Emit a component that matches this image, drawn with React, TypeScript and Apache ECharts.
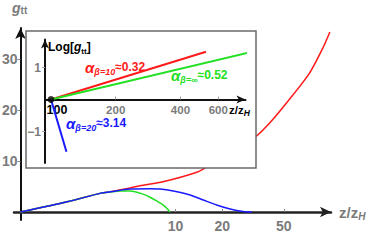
import React, { useEffect, useRef } from 'react';
import * as echarts from 'echarts';

// ---- Main panel: g_tt versus z/z_H (log-scaled z axis) ----
const mainXTicks = [10, 20, 50];
const mainYTicks = [10, 20, 30];

const redZ = [1, 2, 3.3, 3.8, 5, 5.9, 8.3, 13.7, 16.7, 19.4, 25, 33, 42, 54, 73, 90, 99];
const redG = [0, 2.0, 3.7, 3.98, 4.65, 5.16, 5.94, 7.8, 9.2, 10.6, 12.6, 14.8, 18, 22, 27.2, 32.4, 35.3];

const blueZ = [1, 2, 3.3, 3.8, 5.09, 6.85, 7.94, 9.68, 12.4, 15.1, 18.4, 22.5, 27.3, 31];
const blueG = [0, 2.0, 3.7, 3.95, 4.5, 4.55, 4.5, 4.1, 3.33, 2.35, 1.37, 0.59, 0.1, 0];

const greenZ = [1, 2, 3.3, 3.8, 4.4, 5.09, 6.17, 6.85, 7.6, 8.3, 8.81, 9.22];
const greenG = [0, 2.0, 3.7, 3.93, 4.12, 4.1, 3.5, 2.9, 2.15, 1.4, 0.7, 0];

// ---- Inset: Log[g_tt] versus z/z_H (log-scaled z axis) ----
const insetXTicks = [100, 200, 400, 600];
const insetYTicks = [-1, 1];
const insetRedZ = [100, 526];
const insetRedLog = [0, 1.49];
const insetGreenZ = [100, 857];
const insetGreenLog = [0, 1.49];
const insetBlueZ = [100, 118];
const insetBlueLog = [0, -1.63];
const insetOrigin = [[100, 0]];

const FONT = '"Liberation Sans", Arial, sans-serif';
const GRAY = '#7b7b7b';
const RED = '#ff1a1a';
const GREEN = '#22e022';
const BLUE = '#1a1aff';

const lg = (v: number) => Math.log10(v);
const pts = (zs: number[], gs: number[]) => zs.map((z, i) => [lg(z), gs[i]]);

const alphaRich = (color: string) => ({
  a: { fontFamily: FONT, fontSize: 15, fontStyle: 'italic', fontWeight: 'bold', fill: color, lineHeight: 18, verticalAlign: 'middle' },
  s: { fontFamily: FONT, fontSize: 9, fontStyle: 'italic', fontWeight: 'bold', fill: color, lineHeight: 10, verticalAlign: 'bottom' },
  b: { fontFamily: FONT, fontSize: 12, fontWeight: 'bold', fill: color, lineHeight: 18, verticalAlign: 'middle' },
});

export default function App() {
  const ref = useRef<HTMLDivElement>(null);
  useEffect(() => {
    if (!ref.current) return;
    const chart = echarts.init(ref.current, undefined, { renderer: 'svg' });
    const option: any = {
      animation: false,
      backgroundColor: '#ffffff',
      grid: [
        { left: 14, right: 40, top: 28, bottom: 22, containLabel: false, outerBoundsMode: 'none' },
        { left: 45, right: 125.5, top: 39.5, bottom: 79, containLabel: false, outerBoundsMode: 'none' },
      ],
      xAxis: [
        {
          gridIndex: 0,
          type: 'value',
          position: 'bottom',
          offset: -8,
          min: -0.0419,
          max: 2.003,
          splitLine: { show: false },
          axisLine: { onZero: false, lineStyle: { color: '#222', width: 2.5 }, symbol: ['none', 'arrow'], symbolSize: [8, 11] },
          axisTick: { inside: true, length: 3, lineStyle: { color: '#888', width: 1 }, customValues: mainXTicks.map(lg) },
          axisLabel: {
            customValues: mainXTicks.map(lg),
            formatter: (v: number) => String(Math.round(Math.pow(10, v))),
            color: GRAY, fontFamily: FONT, fontWeight: 'bold', fontSize: 14, margin: 7,
          },
          name: '{a|z/z}{h|H}',
          nameLocation: 'end',
          nameGap: 8,
          nameTextStyle: {
            rich: {
              a: { fontFamily: FONT, fontSize: 15, fontWeight: 'bold', color: GRAY, lineHeight: 18, verticalAlign: 'middle' },
              h: { fontFamily: FONT, fontSize: 10, fontWeight: 'bold', fontStyle: 'italic', color: GRAY, lineHeight: 10, verticalAlign: 'bottom' },
            },
          },
        },
        {
          gridIndex: 1,
          type: 'value',
          position: 'bottom',
          offset: -63.5,
          min: 1.9721,
          max: 2.9047,
          z: 10,
          splitLine: { show: false },
          axisLine: { onZero: false, lineStyle: { color: '#111', width: 2 }, symbol: ['none', 'arrow'], symbolSize: [6, 9] },
          axisTick: { inside: true, length: 3, lineStyle: { color: '#999', width: 1 }, customValues: insetXTicks.slice(1).map(lg) },
          axisLabel: {
            customValues: insetXTicks.map(lg),
            formatter: (v: number) => {
              const n = Math.round(Math.pow(10, v));
              return n === 100 ? '{o|100}' : String(n);
            },
            color: GRAY, fontFamily: FONT, fontWeight: 'bold', fontSize: 11.5, margin: 4,
            rich: { o: { color: '#000', fontFamily: FONT, fontWeight: 'bold', fontSize: 12.5, padding: [0, 0, 0, 12] } },
          },
        },
      ],
      yAxis: [
        {
          gridIndex: 0,
          type: 'value',
          position: 'left',
          offset: -6.5,
          min: -1.57,
          max: 36.08,
          splitLine: { show: false },
          axisLine: { onZero: false, lineStyle: { color: '#111', width: 2 }, symbol: ['none', 'arrow'], symbolSize: [8, 11] },
          axisTick: { length: 3, lineStyle: { color: '#888', width: 1 }, customValues: mainYTicks },
          axisLabel: {
            customValues: mainYTicks,
            color: GRAY, fontFamily: FONT, fontWeight: 'bold', fontSize: 14, margin: 3,
          },
        },
        {
          gridIndex: 1,
          type: 'value',
          position: 'left',
          min: -1.984,
          max: 1.875,
          z: 10,
          splitLine: { show: false },
          axisLine: { onZero: false, lineStyle: { color: '#111', width: 2 }, symbol: ['none', 'arrow'], symbolSize: [6, 9] },
          axisTick: { length: 3, lineStyle: { color: '#999', width: 1 }, customValues: insetYTicks },
          axisLabel: {
            customValues: insetYTicks,
            formatter: (v: number) => (v < 0 ? '\u2212' + Math.abs(v) : String(v)),
            color: GRAY, fontFamily: FONT, fontWeight: 'bold', fontSize: 12, margin: 4,
          },
        },
      ],
      series: [
        { type: 'line', xAxisIndex: 0, yAxisIndex: 0, data: pts(redZ, redG), showSymbol: false, smooth: 0.25, lineStyle: { color: RED, width: 1.5 }, itemStyle: { color: RED }, z: 2 },
        { type: 'line', xAxisIndex: 0, yAxisIndex: 0, data: pts(greenZ, greenG), showSymbol: false, smooth: 0.25, lineStyle: { color: GREEN, width: 1.5 }, itemStyle: { color: GREEN }, z: 2 },
        { type: 'line', xAxisIndex: 0, yAxisIndex: 0, data: pts(blueZ, blueG), showSymbol: false, smooth: 0.25, lineStyle: { color: BLUE, width: 1.5 }, itemStyle: { color: BLUE }, z: 3 },
        { type: 'line', xAxisIndex: 1, yAxisIndex: 1, data: pts(insetRedZ, insetRedLog), showSymbol: false, clip: false, lineStyle: { color: RED, width: 2 }, itemStyle: { color: RED }, z: 10 },
        { type: 'line', xAxisIndex: 1, yAxisIndex: 1, data: pts(insetGreenZ, insetGreenLog), showSymbol: false, clip: false, lineStyle: { color: GREEN, width: 2 }, itemStyle: { color: GREEN }, z: 10 },
        { type: 'line', xAxisIndex: 1, yAxisIndex: 1, data: pts(insetBlueZ, insetBlueLog), showSymbol: false, clip: false, lineStyle: { color: BLUE, width: 2 }, itemStyle: { color: BLUE }, z: 10 },
        { type: 'scatter', xAxisIndex: 1, yAxisIndex: 1, data: insetOrigin.map((p) => [lg(p[0]), p[1]]), symbolSize: 7, itemStyle: { color: '#000' }, z: 12 },
      ],
      graphic: [
        { type: 'rect', z: 5, shape: { x: 26, y: 31, width: 230, height: 137 }, style: { fill: '#fff', stroke: '#6a6a6a', lineWidth: 1.5 } },
        {
          type: 'text', z: 20, x: 12, y: 1,
          style: {
            text: '{g|g}{t|tt}',
            rich: {
              g: { fontFamily: FONT, fontSize: 14, fontWeight: 'bold', fontStyle: 'italic', fill: GRAY, lineHeight: 14, padding: [0, 0, 3, 0], verticalAlign: 'top' },
              t: { fontFamily: FONT, fontSize: 10, fontWeight: 'bold', fill: GRAY, lineHeight: 10, verticalAlign: 'bottom' },
            },
          },
        },
        {
          type: 'text', z: 20, x: 48, y: 39,
          style: {
            text: '{a|Log[}{g|g}{t|tt}{a|]}',
            rich: {
              a: { fontFamily: FONT, fontSize: 12, fontWeight: 'bold', fill: '#000', lineHeight: 16, verticalAlign: 'middle' },
              g: { fontFamily: FONT, fontSize: 12, fontWeight: 'bold', fontStyle: 'italic', fill: '#000', lineHeight: 16, verticalAlign: 'middle' },
              t: { fontFamily: FONT, fontSize: 8, fontWeight: 'bold', fill: '#000', lineHeight: 10, verticalAlign: 'bottom' },
            },
          },
        },
        { type: 'text', z: 20, x: 85, y: 58, style: { text: '{a|\u03b1}{s|\u03b2=10}{b|\u22480.32}', rich: alphaRich(RED) } },
        { type: 'text', z: 20, x: 171, y: 66, style: { text: '{a|\u03b1}{s|\u03b2=\u221e}{b|\u22480.52}', rich: alphaRich(GREEN) } },
        { type: 'text', z: 20, x: 66, y: 114, style: { text: '{a|\u03b1}{s|\u03b2=20}{b|\u22483.14}', rich: alphaRich(BLUE) } },
        {
          type: 'text', z: 20, x: 229, y: 103,
          style: {
            text: '{a|z/z}{h|H}',
            rich: {
              a: { fontFamily: FONT, fontSize: 11.5, fontWeight: 'bold', fill: '#000', lineHeight: 14, verticalAlign: 'middle' },
              h: { fontFamily: FONT, fontSize: 8.5, fontWeight: 'bold', fontStyle: 'italic', fill: '#000', lineHeight: 9, verticalAlign: 'bottom' },
            },
          },
        },
      ],
    };
    chart.setOption(option);
    return () => chart.dispose();
  }, []);
  return <div ref={ref} style={{ position: 'fixed', left: 0, top: 0, width: 371, height: 242 }} />;
}
